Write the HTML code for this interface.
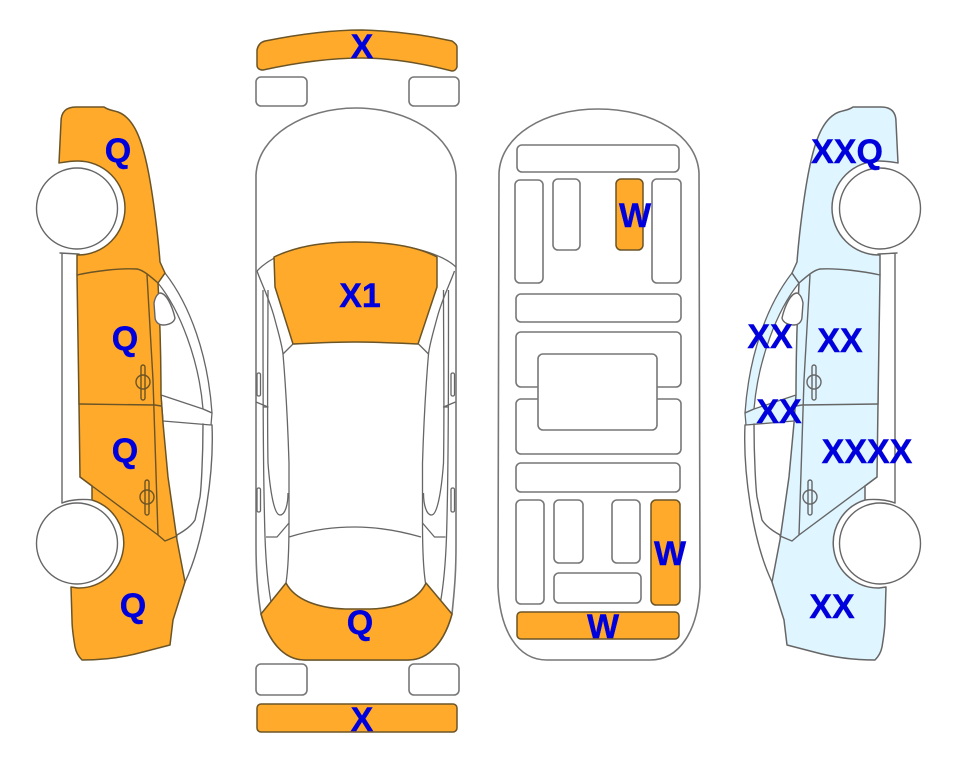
<!DOCTYPE html>
<html>
<head>
<meta charset="utf-8">
<style>
html,body{margin:0;padding:0;background:#fff;}
svg{display:block;}
text{font-family:"Liberation Sans",sans-serif;font-weight:700;font-size:34px;fill:#0000dd;stroke:#0000dd;stroke-width:.4;text-anchor:middle;}
.l{fill:none;stroke:var(--s);stroke-width:1.4;stroke-linejoin:round;stroke-linecap:round;}
.b{fill:var(--b);stroke:var(--s);stroke-width:1.5;stroke-linejoin:round;}
.p{fill:var(--p);stroke:#666;stroke-width:1.3;stroke-linejoin:round;}
.w{fill:#fff;stroke:#666;stroke-width:1.4;}
.g{fill:#fff;stroke:#777;stroke-width:1.6;stroke-linejoin:round;}
.m{fill:none;stroke:#666;stroke-width:1.3;stroke-linejoin:round;}
.o{fill:#ffaa2b;stroke:#6b5426;stroke-width:1.5;stroke-linejoin:round;}
</style>
</head>
<body>
<svg width="963" height="768" viewBox="0 0 963 768" xmlns="http://www.w3.org/2000/svg">
<defs>
<g id="side">
  <path class="p" d="M165 273C190 305 208 355 212 413L203 409C199 360 180 310 158 283Z"/>
  <path class="p" d="M161 395L203 409L212 413L211 425L163 421Z"/>
  <path class="l" style="stroke:#666" d="M212 425C214 470 205 540 185 582M203 424C203 460 201 490 200 497L195 520C190 528 180 534 165 541"/>
  <path class="l" style="stroke:#666" d="M62 254L62 503M79 254L79 404M60 253L78 254"/>
  <path class="b" d="M61 122C61 112 66 107 76 107L104 107C108 110 112 110 118 112C134 118 142 140 148 170C153 195 158 235 160 262L165 273L158 283C160 320 161 360 161 395L163 423L168 477L177 540L185 582L173 620L170 645L143 652C125 657 105 660 82 660C78 656 76 652 75 647C73 635 72 628 72 620L71 587L78 588A45 45 0 0 0 92 500L92 486L80 477L79 404L77 275L77 255L78 255A47 47 0 0 0 78 161C70 161 65 162 59 163L61 122Z"/>
  <path class="l" d="M77 275C95 271 120 268 137 269C143 270 150 276 158 283M147 275L153 380L158 535L165 541L177 536M79 404L155 405L161 406M80 477L158 535"/>
  <path class="l" style="stroke:#666" d="M62 503C72 499 85 499 92 500"/>
  <path class="w" d="M160 293C166 293 172 305 175 318C174 323 168 325 163 325C158 325 155 321 155 317L154 303C155 298 157 294 160 293Z"/>
  <ellipse class="l" cx="143" cy="382" rx="7" ry="7"/>
  <rect class="l" x="141" y="365" width="4" height="35" rx="2"/>
  <ellipse class="l" cx="147" cy="497" rx="7" ry="7"/>
  <rect class="l" x="145" y="480" width="4" height="35" rx="2"/>
  <circle class="w" cx="77" cy="208.5" r="40.5"/>
  <circle class="w" cx="77" cy="543.5" r="40.5"/>
</g>
<g id="midhalf">
  <path class="m" d="M257 271C262 285 270 300 275 320C279 335 282 345 283 354M283 354L293 344"/>
  <path class="m" d="M283 354C286 390 288 430 289 463L289 523C289 550 288 570 286 583"/>
  <path class="m" d="M268 290C268 350 267 410 268 463C270 490 274 515 280 515C285 515 288 505 288 493"/>
  <path class="m" d="M263 290C263 380 263 470 265 537C266 565 268 585 271 602"/>
  <path class="m" d="M256 402L268 407L263 407"/>
  <path class="m" d="M289 523L277 537L266 537"/>
  <rect class="m" x="257" y="373" width="3.5" height="23" rx="1.5"/>
  <rect class="m" x="257" y="488" width="3.5" height="24" rx="1.5"/>
</g>
</defs>

<!-- left side car -->
<g style="--b:#ffaa2b;--p:#fff;--s:#6b5426"><use href="#side"/></g>
<!-- right side car -->
<g style="--b:#dff5ff;--p:#dff5ff;--s:#666" transform="translate(957 0) scale(-1 1)"><use href="#side"/></g>

<!-- top view car -->
<path class="o" d="M257 50C258 45 261 42 265 41C295 35 330 30 362 30C395 31 425 35 452 41C455 43 457 45 457 47L457 67C456 70 454 71 452 71C425 64 395 58 362 58C330 58 295 63 263 70C259 70 257 68 257 65Z"/>
<rect class="g" x="256" y="77" width="51" height="29" rx="5"/>
<rect class="g" x="409" y="77" width="50" height="29" rx="5"/>
<path class="g" d="M256 175C258 135 305 108 356 108C407 108 454 135 456 175L456 545C456 570 455 585 452 614C445 640 430 660 408 660L305 660C283 660 268 640 261 614C257 590 256 570 256 545Z"/>
<path class="m" d="M257 271C275 252 310 242 355 242C400 242 440 252 456 267"/>
<use href="#midhalf"/>
<use href="#midhalf" transform="translate(711.5 0) scale(-1 1)"/>
<path class="m" d="M289 537C315 529 335 527 355 527C378 527 400 531 421 537"/>
<path class="o" d="M274 257C295 247 320 242 355 242C390 242 418 247 437 257L437 287L418 344C395 343 375 342 355 342C335 342 315 343 293 344L275 287Z"/>
<path class="o" d="M261 614L286 583C295 600 318 608 345 609L370 609C398 608 418 600 426 583L452 614C445 640 430 660 408 660L305 660C283 660 268 640 261 614Z"/>
<rect class="g" x="256" y="664" width="51" height="31" rx="5"/>
<rect class="g" x="409" y="664" width="50" height="31" rx="5"/>
<rect class="o" x="257" y="704" width="200" height="28" rx="4"/>

<!-- underside -->
<path class="g" d="M499 173C501 135 545 109 598 109C652 109 697 135 699 173L700 587C698 630 680 660 650 660L547 660C517 660 500 630 498 587Z"/>
<rect class="g" x="517" y="145" width="162" height="27" rx="5"/>
<rect class="g" x="515" y="180" width="28" height="103" rx="5"/>
<rect class="g" x="553" y="179" width="27" height="71" rx="5"/>
<rect class="o" x="616" y="179" width="27" height="71" rx="5"/>
<rect class="g" x="652" y="179" width="29" height="104" rx="5"/>
<rect class="g" x="516" y="294" width="165" height="28" rx="5"/>
<rect class="g" x="516" y="332" width="165" height="55" rx="5"/>
<rect class="g" x="516" y="399" width="165" height="55" rx="5"/>
<rect class="g" x="538" y="354" width="119" height="76" rx="5"/>
<rect class="g" x="516" y="463" width="164" height="29" rx="5"/>
<rect class="g" x="516" y="500" width="28" height="104" rx="5"/>
<rect class="g" x="554" y="500" width="29" height="63" rx="5"/>
<rect class="g" x="612" y="500" width="28" height="63" rx="5"/>
<rect class="o" x="651" y="500" width="29" height="105" rx="5"/>
<rect class="g" x="554" y="573" width="87" height="30" rx="5"/>
<rect class="o" x="517" y="612" width="162" height="27" rx="4"/>

<!-- labels -->
<text x="118" y="162">Q</text>
<text x="125" y="350">Q</text>
<text x="125" y="462">Q</text>
<text x="133" y="617">Q</text>
<text x="362" y="58">X</text>
<text x="360" y="307">X1</text>
<text x="360" y="634">Q</text>
<text x="362" y="731">X</text>
<text x="635" y="227">W</text>
<text x="670" y="565">W</text>
<text x="603" y="638">W</text>
<text x="847" y="163">XXQ</text>
<text x="770" y="348">XX</text>
<text x="840" y="352">XX</text>
<text x="779" y="423">XX</text>
<text x="867" y="463">XXXX</text>
<text x="832" y="618">XX</text>
</svg>
</body>
</html>
